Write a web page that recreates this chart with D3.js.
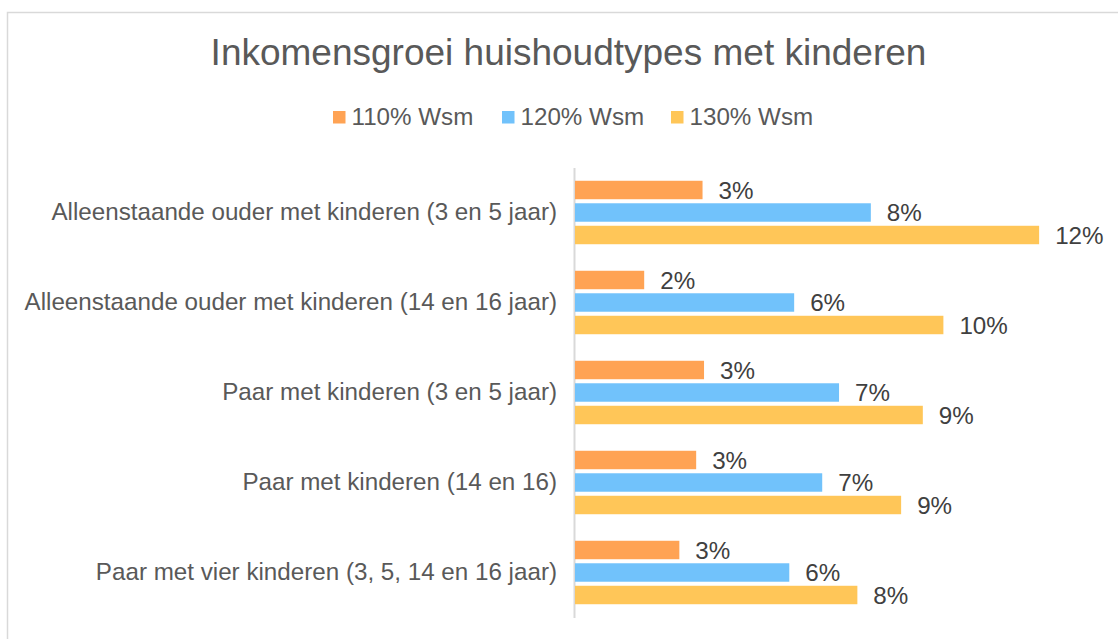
<!DOCTYPE html>
<html>
<head>
<meta charset="utf-8">
<script src="https://cdn.jsdelivr.net/npm/d3@7/dist/d3.min.js"></script>
<style>
  html, body { margin: 0; padding: 0; background: #fff; }
  svg { display: block; font-family: "Liberation Sans", Arial, sans-serif; }
</style>
</head>
<body>
<svg id="chart" width="1118" height="639"></svg>
<script>
// chart data
var categories = [
  "Alleenstaande ouder met kinderen (3 en 5 jaar)",
  "Alleenstaande ouder met kinderen (14 en 16 jaar)",
  "Paar met kinderen (3 en 5 jaar)",
  "Paar met kinderen (14 en 16)",
  "Paar met vier kinderen (3, 5, 14 en 16 jaar)"
];
var seriesNames = ["110% Wsm", "120% Wsm", "130% Wsm"];
var wsm110 = [0.0341, 0.0185, 0.0345, 0.0324, 0.0279];
var wsm120 = [0.0791, 0.0586, 0.0706, 0.0661, 0.0573];
var wsm130 = [0.1241, 0.0985, 0.0930, 0.0872, 0.0755];
var colors = ["#FFA354", "#71C2FB", "#FFC658"];

var seriesValues = [wsm110, wsm120, wsm130];
var textColor = "#595959";
var labelSize = "24.2px";

var svg = d3.select("#chart");

// outer chart border (right and bottom run off the picture)
svg.append("rect")
  .attr("x", 7.5)
  .attr("y", 12.5)
  .attr("width", 1200)
  .attr("height", 700)
  .attr("fill", "none")
  .attr("stroke", "#D9D9D9")
  .attr("stroke-width", 1.5);

// title
svg.append("text")
  .attr("x", 568.5)
  .attr("y", 65)
  .attr("text-anchor", "middle")
  .attr("font-size", "37px")
  .attr("fill", textColor)
  .text("Inkomensgroei huishoudtypes met kinderen");

// legend
var legend = svg.append("g")
  .attr("transform", "translate(333,0)");
var item = legend.selectAll("g.item")
  .data(seriesNames)
  .enter().append("g")
  .attr("class", "item")
  .attr("transform", function(d, i) { return "translate(" + (i * 169) + ",0)"; });
item.append("rect")
  .attr("x", 0)
  .attr("y", 111)
  .attr("width", 12.5)
  .attr("height", 12.5)
  .attr("fill", function(d, i) { return colors[i]; });
item.append("text")
  .attr("x", 18.5)
  .attr("y", 125)
  .attr("font-size", labelSize)
  .attr("fill", textColor)
  .text(function(d) { return d; });

// scales
var x = d3.scaleLinear()
  .domain([0, 0.14])
  .range([575, 1098.6]);

var y0 = d3.scaleBand()
  .domain(categories)
  .range([167.5, 617.5])
  .paddingInner(0.25)
  .paddingOuter(0.125);

var y1 = d3.scaleBand()
  .domain(d3.range(seriesNames.length))
  .range([0, y0.bandwidth()])
  .paddingInner(0.18)
  .paddingOuter(0.09);

// category axis
var yAxis = svg.append("g")
  .attr("transform", "translate(574,0)")
  .call(d3.axisLeft(y0).tickSize(0).tickSizeOuter(0).tickPadding(17));
yAxis.select(".domain")
  .attr("stroke", "#D9D9D9")
  .attr("stroke-width", 2);
yAxis.selectAll("text")
  .attr("font-size", labelSize)
  .attr("font-family", "\"Liberation Sans\", Arial, sans-serif")
  .attr("fill", textColor);

// bars
var rows = categories.map(function(c, ci) {
  return seriesValues.map(function(vals, si) {
    return {cat: c, s: si, v: vals[ci]};
  });
});

var group = svg.selectAll("g.group")
  .data(rows)
  .enter().append("g")
  .attr("class", "group")
  .attr("transform", function(d, i) { return "translate(0," + y0(categories[i]) + ")"; });

group.selectAll("rect")
  .data(function(d) { return d; })
  .enter().append("rect")
  .attr("x", x(0))
  .attr("y", function(d) { return y1(d.s); })
  .attr("width", function(d) { return x(d.v) - x(0); })
  .attr("height", y1.bandwidth())
  .attr("fill", function(d) { return colors[d.s]; });

// data labels
var fmt = d3.format(".0%");
group.selectAll("text")
  .data(function(d) { return d; })
  .enter().append("text")
  .attr("x", function(d) { return x(d.v) + 16; })
  .attr("y", function(d) { return y1(d.s) + y1.bandwidth() / 2; })
  .attr("dy", "0.36em")
  .attr("font-size", labelSize)
  .attr("fill", "#404040")
  .text(function(d) { return fmt(d.v); });
</script>
</body>
</html>
